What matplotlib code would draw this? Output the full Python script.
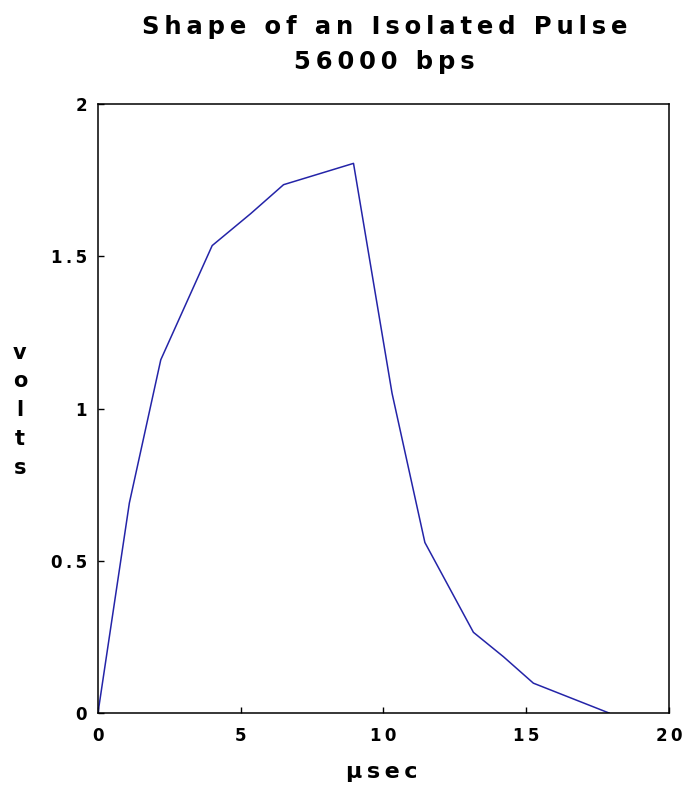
import matplotlib
matplotlib.use("Agg")
import matplotlib.pyplot as plt

# pulse samples (usec, volts)
t_us = [0, 1.1, 2.2, 4.0, 4.45, 5.35, 6.5, 8.95, 10.3, 11.45, 13.15, 14.2, 15.25, 17.9]
volts = [0, 0.69, 1.16, 1.535, 1.57, 1.64, 1.735, 1.805, 1.05, 0.56, 0.265, 0.185, 0.098, 0.0]

x_ticks = [0, 5, 10, 15, 20]
y_ticks = [0, 0.5, 1, 1.5, 2]
y_tick_labels = ["0", "0.5", "1", "1.5", "2"]


def spaced(s):
    # wide letter spacing like the old plot
    return "\u2009".join(s)


fig = plt.figure(figsize=(6.87, 7.89), dpi=100)
ax = fig.add_axes([0.1426, 0.0963, 0.8312, 0.7719])

ax.plot(t_us, volts, color="#2424a8", lw=1.1)

ax.set_xlim(0, 20)
ax.set_ylim(0, 2)
ax.set_xticks(x_ticks)
ax.set_xticklabels([spaced(str(v)) for v in x_ticks], fontsize=12, fontweight="bold")
ax.set_yticks(y_ticks)
ax.set_yticklabels([spaced(s) for s in y_tick_labels], fontsize=12, fontweight="bold")
ax.tick_params(direction="in", length=4.5, width=1.0, pad=8)
ax.tick_params(axis="x", pad=10)
for sp in ax.spines.values():
    sp.set_linewidth(1.1)

fig.text(0.56, 0.966, spaced("Shape of an Isolated Pulse"), ha="center", va="center",
         fontsize=17.5, fontweight="bold")
fig.text(0.56, 0.922, spaced("56000 bps"), ha="center", va="center",
         fontsize=17.5, fontweight="bold")

fig.text(0.556, 0.022, spaced("μsec"), ha="center", va="center",
         fontsize=16, fontweight="bold")
fig.text(0.029, 0.48, "v\no\nl\nt\ns", ha="center", va="center",
         fontsize=15, fontweight="bold", linespacing=1.55)

fig.savefig("out.png", dpi=100)
